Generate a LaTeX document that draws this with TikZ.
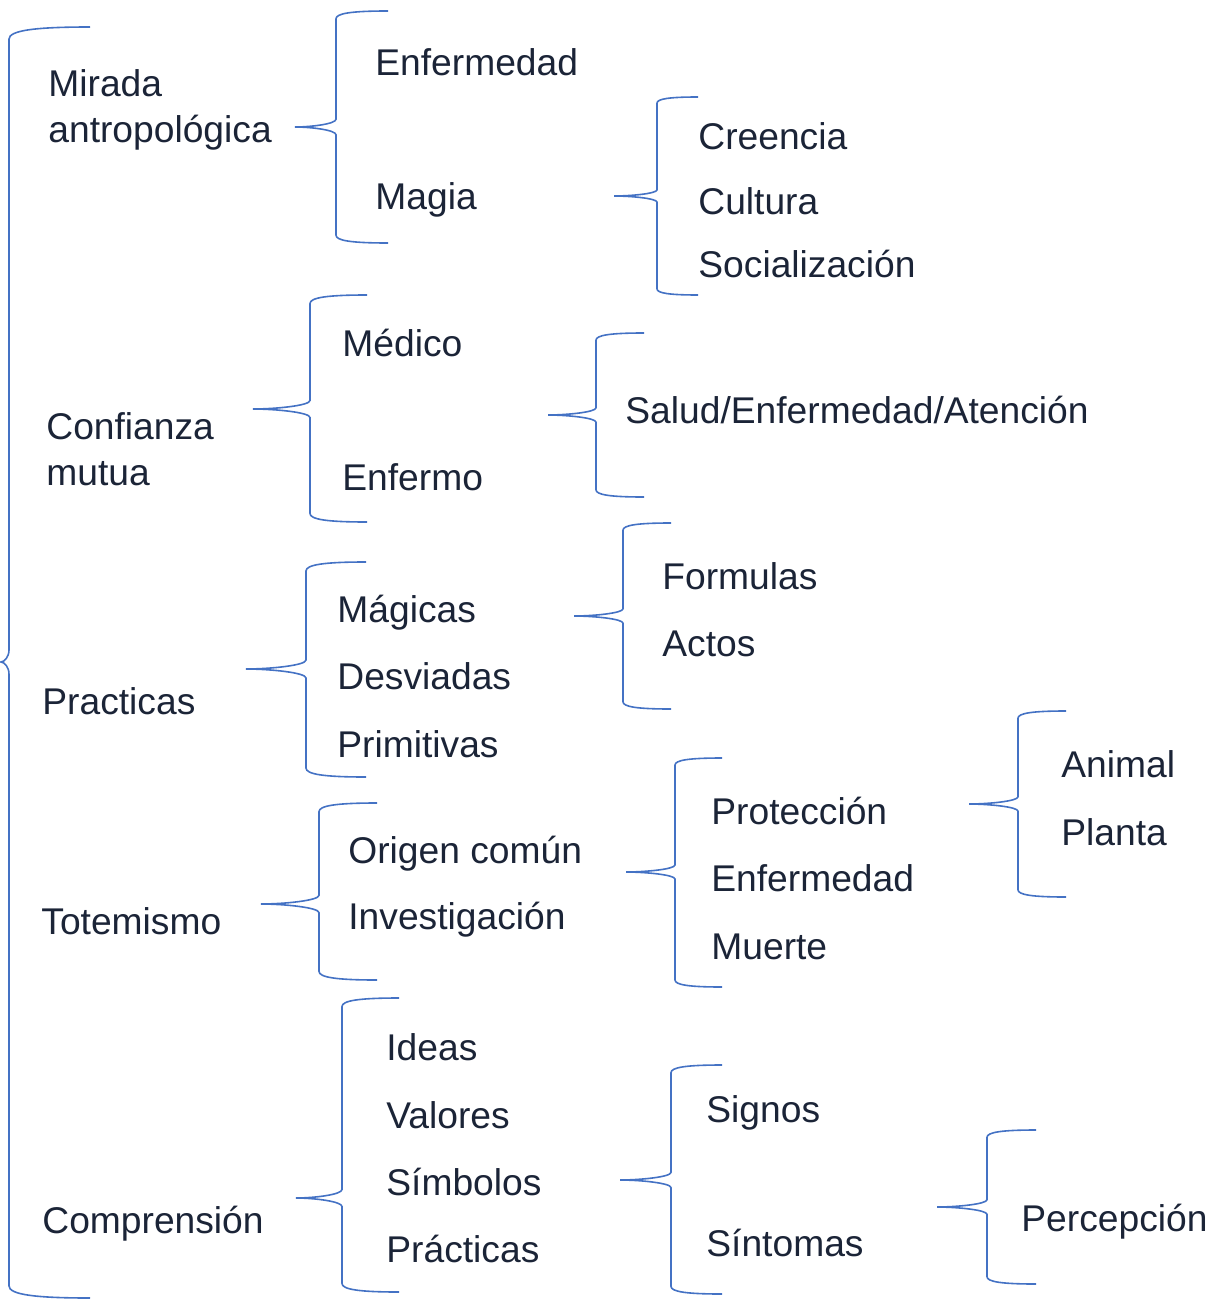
\documentclass[tikz,border=0pt]{standalone}
\usepackage{fontspec}
\setmainfont{Liberation Sans}
\usepackage{tikz}
\usetikzlibrary{calc}
\definecolor{brblue}{HTML}{4472C4}
\definecolor{brink} {HTML}{1B2437}
% #1 end x, #2 spine x, #3 tip x, #4 top y, #5 tip y, #6 bottom y
\newcommand{\brbrace}[6]{%
  \pgfmathsetmacro{\bd}{0.15*(#1-#2)}
  \draw[brblue, line width=0.8pt]
    (#1,#4) .. controls ({#2+0.3*(#1-#2)},#4) and (#2,{#4+0.3*\bd}) .. (#2,{#4+\bd})
    -- (#2,{#5-\bd}) .. controls (#2,{#5-0.4*\bd}) and ({#3+0.4*(#2-#3)},#5) .. (#3,#5)
    .. controls ({#3+0.4*(#2-#3)},#5) and (#2,{#5+0.4*\bd}) .. (#2,{#5+\bd})
    -- (#2,{#6-\bd}) .. controls (#2,{#6-0.3*\bd}) and ({#2+0.3*(#1-#2)},#6) .. (#1,#6);}

\begin{document}
\begin{tikzpicture}[x=0.5pt, y=-0.5pt,
    lbl/.style={anchor=base west, inner sep=0pt, text=brink,
                font=\fontsize{18.6}{22}\selectfont}]
  \useasboundingbox (0,0) rectangle (1215,1300);
  % braces
  \brbrace{90}{9}{1}{27}{662}{1298}
  \brbrace{388}{336}{295}{11}{127}{243}
  \brbrace{698}{657}{614}{97}{196}{295}
  \brbrace{367}{310}{253}{295}{409}{522}
  \brbrace{644}{596}{548}{333}{415}{497}
  \brbrace{366}{306}{246}{562}{669}{777}
  \brbrace{671}{623}{574}{523}{616}{709}
  \brbrace{377}{319}{261}{803}{904}{980}
  \brbrace{722}{675}{626}{758}{872}{987}
  \brbrace{1066}{1018}{969}{711}{804}{897}
  \brbrace{399}{342}{296}{998}{1198}{1292}
  \brbrace{722}{671}{620}{1065}{1180}{1294}
  \brbrace{1036}{987}{937}{1130}{1207}{1284}
  % first column
  \node[lbl] (mirada)  at (48,97)   {Mirada};
  \node[lbl] (antrop)  at (48,143)  {antropológica};
  \node[lbl] (confia)  at (46,439)  {Confianza};
  \node[lbl] (mutua)   at (46,485)  {mutua};
  \node[lbl] (practi)  at (42,714)  {Practicas};
  \node[lbl] (totem)   at (41,934)  {Totemismo};
  \node[lbl] (compre)  at (42,1233) {Comprensión};
  % second column
  \node[lbl] (enferm)  at (375,76)  {Enfermedad};
  \node[lbl] (magia)   at (375,210) {Magia};
  \node[lbl] (medico)  at (342,356) {Médico};
  \node[lbl] (enfermo) at (342,490) {Enfermo};
  \node[lbl] (magica)  at (337,622) {Mágicas};
  \node[lbl] (desvia)  at (337,689) {Desviadas};
  \node[lbl] (primit)  at (337,757) {Primitivas};
  \node[lbl] (origen)  at (348,863) {Origen común};
  \node[lbl] (invest)  at (348,929) {Investigación};
  \node[lbl] (ideas)   at (386,1060) {Ideas};
  \node[lbl] (valor)   at (386,1128) {Valores};
  \node[lbl] (simbol)  at (386,1195) {Símbolos};
  \node[lbl] (pract2)  at (386,1262) {Prácticas};
  % third column
  \node[lbl] (creen)   at (698,150) {Creencia};
  \node[lbl] (cultu)   at (698,214) {Cultura};
  \node[lbl] (social)  at (698,278) {Socialización};
  \node[lbl] (salud)   at (625,423) {Salud/Enfermedad/Atención};
  \node[lbl] (formul)  at (662,589) {Formulas};
  \node[lbl] (actos)   at (662,656) {Actos};
  \node[lbl] (protec)  at (711,824) {Protección};
  \node[lbl] (enferm2) at (711,891) {Enfermedad};
  \node[lbl] (muerte)  at (711,959) {Muerte};
  \node[lbl] (signos)  at (706,1122) {Signos};
  \node[lbl] (sintom)  at (706,1256) {Síntomas};
  % fourth column
  \node[lbl] (animal)  at (1061,777) {Animal};
  \node[lbl] (planta)  at (1061,845) {Planta};
  \node[lbl] (percep)  at (1021,1231) {Percepción};
\end{tikzpicture}
\end{document}
